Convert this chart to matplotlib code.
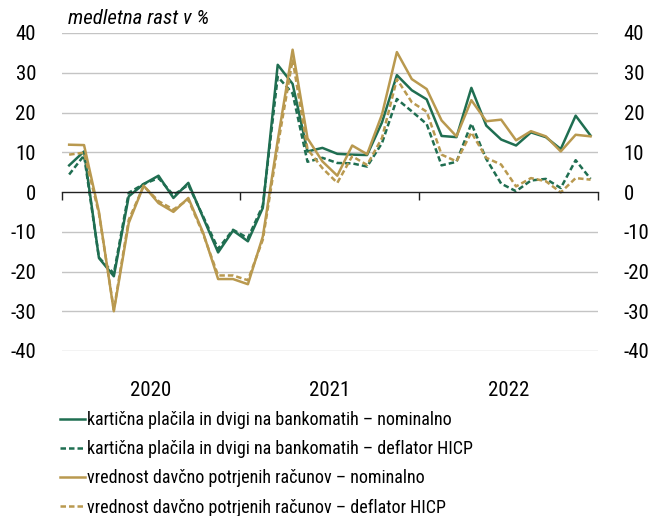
import matplotlib
matplotlib.use("Agg")
import matplotlib.pyplot as plt
import matplotlib.transforms as mtransforms
import numpy as np

# monthly data, Jan 2020 - Dec 2022
months = np.arange(36)
years = ["2020", "2021", "2022"]

cards_nominal = [
    6.7, 10.2, -16.6, -21.2, -1.1, 2.0, 4.1, -1.5, 2.3, -6.5, -15.2, -9.7,
    -12.4, -4.0, 32.0, 27.2, 10.2, 11.1, 9.6, 9.4, 9.3, 17.5, 29.4, 25.6,
    23.3, 14.1, 13.8, 26.2, 16.7, 13.2, 11.7, 15.0, 13.8, 10.8, 19.2, 14.2,
]
cards_hicp = [
    4.4, 9.2, -16.5, -20.5, -0.2, 2.0, 3.5, -0.8, 1.8, -6.2, -14.3, -9.5,
    -11.6, -3.4, 29.0, 24.8, 7.6, 8.6, 7.3, 7.2, 6.4, 12.3, 23.4, 20.3,
    17.1, 6.7, 7.6, 17.2, 8.3, 2.1, 0.2, 2.9, 3.3, 1.0, 8.0, 3.3,
]
fiscal_nominal = [
    11.9, 11.8, -5.0, -30.0, -7.8, 1.6, -2.8, -5.0, -1.5, -10.3, -21.9, -21.9,
    -23.2, -11.2, 13.0, 35.8, 13.5, 7.7, 4.1, 11.7, 9.5, 19.5, 35.2, 28.4,
    25.9, 18.0, 14.0, 23.1, 17.8, 18.2, 13.0, 15.3, 14.0, 10.2, 14.4, 14.0,
]
fiscal_hicp = [
    9.4, 9.9, -5.4, -29.6, -7.0, 1.5, -2.3, -4.4, -1.9, -10.6, -21.0, -21.0,
    -22.2, -12.0, 11.5, 33.3, 10.8, 6.0, 2.3, 9.0, 6.8, 13.6, 28.4, 22.6,
    20.2, 9.4, 7.7, 15.0, 8.6, 6.9, 1.4, 3.5, 2.7, -0.1, 3.5, 3.1,
]

labels = [
    "kartična plačila in dvigi na bankomatih – nominalno",
    "kartična plačila in dvigi na bankomatih – deflator HICP",
    "vrednost davčno potrjenih računov – nominalno",
    "vrednost davčno potrjenih računov – deflator HICP",
]

GREEN = "#1f6e51"
GOLD = "#b9994f"
LW = 1.8
DASH = (2.2, 1.2)

plt.rcParams["font.family"] = ["Roboto Condensed", "DejaVu Sans"]
plt.rcParams["font.size"] = 15
plt.rcParams["axes.unicode_minus"] = False

fig = plt.figure(figsize=(6.49, 5.16), dpi=100)
ax = fig.add_axes([61.7 / 649, 1 - 351 / 516, (598 - 61.7) / 649, 318 / 516])

ax.plot(months, cards_nominal, color=GREEN, lw=LW, label=labels[0])
ax.plot(months, cards_hicp, color=GREEN, lw=LW, dashes=DASH, label=labels[1])
ax.plot(months, fiscal_nominal, color=GOLD, lw=LW, label=labels[2])
ax.plot(months, fiscal_hicp, color=GOLD, lw=LW, dashes=DASH, label=labels[3])

ax.set_xlim(-0.5, 35.5)
ax.set_ylim(-40, 40)
ax.set_yticks(np.arange(-40, 41, 10))
for v in np.arange(-40, 41, 10):
    if v != 0:
        ax.axhline(v, color="#c4c4c4", lw=1.0, zorder=0)

for s in ["top", "left", "right"]:
    ax.spines[s].set_visible(False)
ax.spines["bottom"].set_position(("data", 0))
ax.spines["bottom"].set_color("#222222")
ax.spines["bottom"].set_linewidth(1.0)
ax.set_xticks([-0.5, 11.5, 23.5, 35.5])
ax.set_xticklabels([])
ax.tick_params(axis="x", direction="out", length=6, width=1.0, color="#222222")
ax.tick_params(axis="y", left=False, right=False, labelleft=True, labelright=True, pad=15)

trans = mtransforms.blended_transform_factory(ax.transData, ax.transAxes)
for k, yr in enumerate(years):
    ax.text(12 * k + 5.5, -0.123, yr, transform=trans, ha="center", va="center")

fig.text(68 / 649, 1 - 19 / 516, "medletna rast v %", style="italic", ha="left", va="center")

fig.legend(
    loc="upper left",
    bbox_to_anchor=(60 / 649, 1 - 411 / 516),
    frameon=False,
    fontsize=13,
    borderpad=0,
    borderaxespad=0,
    handlelength=1.4,
    handletextpad=0.12,
    labelspacing=0.62,
)

fig.savefig("out.png", dpi=100)
